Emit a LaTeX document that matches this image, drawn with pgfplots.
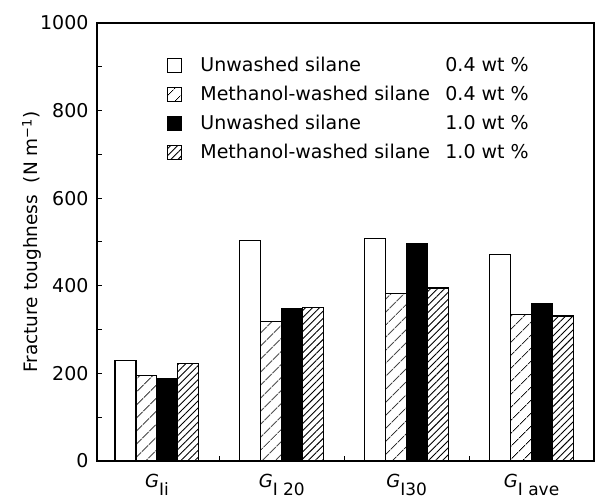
\documentclass[border=0pt]{standalone}
\usepackage{pgfplots}
\pgfplotsset{compat=1.18}
\usetikzlibrary{patterns.meta}
\usepackage{fontspec}
\setmainfont{DejaVu Sans}
\newcommand{\glab}[1]{{\fontsize{18bp}{18bp}\selectfont\itshape G}\raisebox{-8bp}{\fontsize{17bp}{17bp}\selectfont #1}}
\begin{document}
\begin{tikzpicture}
\begin{axis}[
  at={(0,0)}, anchor=south west,
  scale only axis, width=497bp, height=438bp,
  xmin=-0.48, xmax=3.5, ymin=0, ymax=1000,
  axis line style={line width=1.3bp},
  tick align=inside,
  xtick pos=bottom, ytick pos=left,
  xtick={0.5,1.5,2.5}, xticklabels={},
  extra x ticks={0,1,2,3},
  extra x tick labels={\glab{Ii},\glab{I 20},\glab{I30},\glab{I ave}},
  extra x tick style={major tick length=0pt},
  xticklabel style={yshift=-10bp},
  ytick={0,200,400,600,800,1000},
  minor ytick={100,300,500,700,900},
  major tick length=5bp, minor tick length=5bp,
  tick style={line width=1bp, black},
  yticklabel style={font=\fontsize{19bp}{21bp}\selectfont, xshift=-5bp},
  /pgf/number format/assume math mode=true,
  /pgf/number format/set thousands separator={},
  ylabel={Fracture toughness\ \ (N m\textsuperscript{−1})},
  ylabel style={font=\fontsize{18.5bp}{20bp}\selectfont, at={(axis description cs:-0.131,0.5)}, anchor=center},
  legend image code/.code={\draw[#1, line width=1.1bp] (0bp,-6bp) rectangle (14bp,8bp);},
  legend cell align=left,
  legend style={at={(0.141,0.92)}, anchor=north west, draw=none, fill=none,
    font=\fontsize{19bp}{21bp}\selectfont, inner sep=0pt, row sep=12bp,
    /tikz/every odd column/.append style={column sep=18bp},
    nodes={inner sep=0pt, text height=13bp, text depth=4bp}},
]
\addplot[ybar, bar width=0.168, bar shift=-0.252, draw=black, line width=1.1bp, fill=white]
  coordinates {(0,230) (1,504) (2,509) (3,472)};
\addlegendentry{\makebox[245bp][l]{Unwashed silane}0.4 wt \%}
\addplot[ybar, bar width=0.168, bar shift=-0.084, draw=black, line width=1.1bp, fill=white,
  postaction={pattern={Lines[angle=45, distance=10bp, line width=0.9bp]}, pattern color=black}]
  coordinates {(0,196) (1,319) (2,382) (3,335)};
\addlegendentry{\makebox[245bp][l]{Methanol-washed silane}0.4 wt \%}
\addplot[ybar, bar width=0.168, bar shift=0.084, draw=black, line width=1.1bp, fill=black]
  coordinates {(0,189) (1,348) (2,497) (3,360)};
\addlegendentry{\makebox[245bp][l]{Unwashed silane}1.0 wt \%}
\addplot[ybar, bar width=0.168, bar shift=0.252, draw=black, line width=1.1bp, fill=white,
  postaction={pattern={Lines[angle=45, distance=5bp, line width=0.9bp]}, pattern color=black}]
  coordinates {(0,222) (1,351) (2,395) (3,331)};
\addlegendentry{\makebox[245bp][l]{Methanol-washed silane}1.0 wt \%}
\end{axis}
\pgfresetboundingbox
\path[use as bounding box] (-97bp,-39bp) rectangle (498bp,461bp);
\end{tikzpicture}
\end{document}
